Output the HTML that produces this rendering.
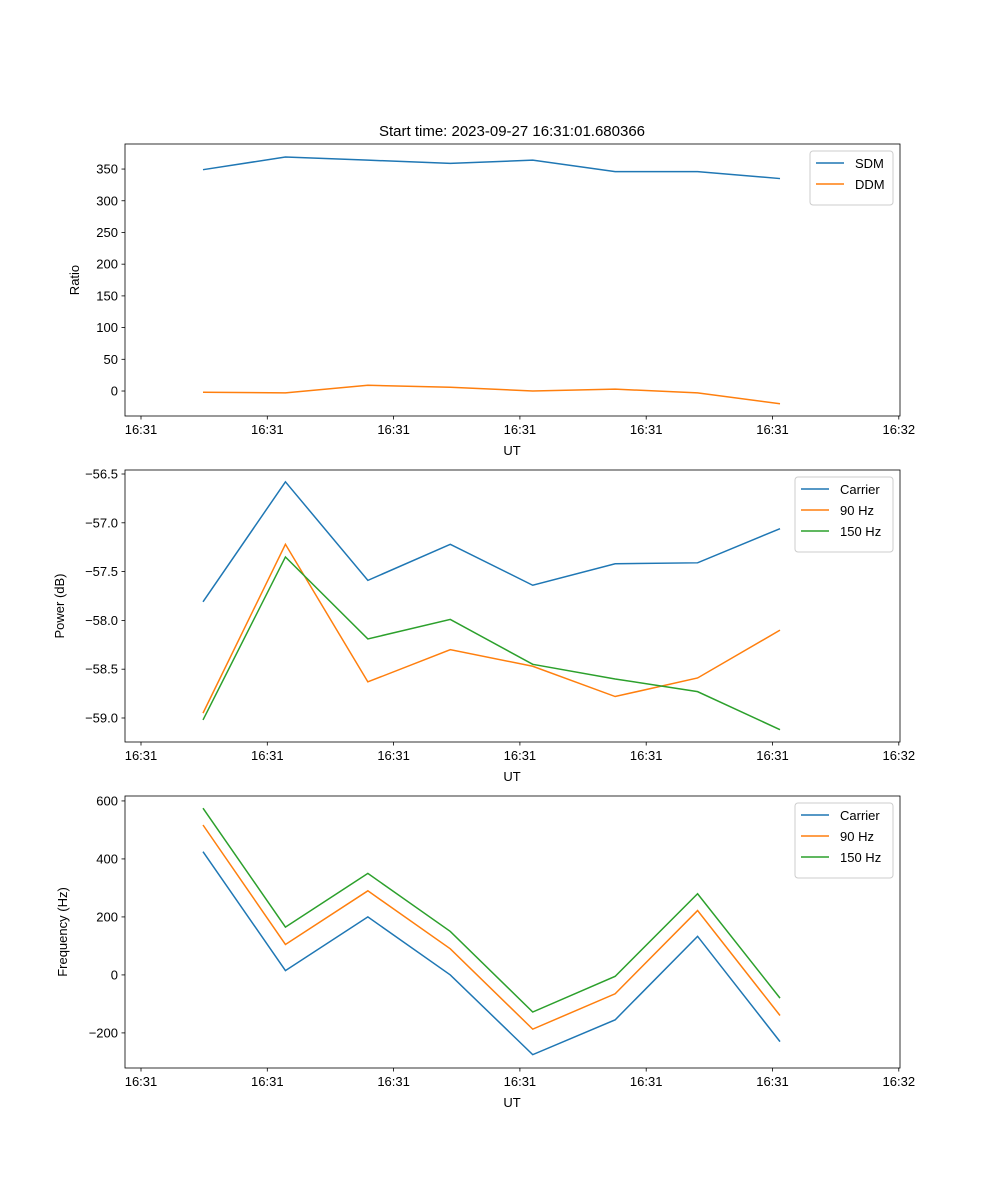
<!DOCTYPE html>
<html><head><meta charset="utf-8"><style>
body{margin:0;background:#fff}
svg{display:block;font-family:"Liberation Sans","DejaVu Sans",sans-serif}
</style></head><body>
<svg id="fig" width="1000" height="1200">
<text x="512" y="136" font-size="15" text-anchor="middle">Start time: 2023-09-27 16:31:01.680366</text>
</svg>
<script>
const xTickLabels = ["16:31","16:31","16:31","16:31","16:31","16:31","16:32"];
const ratioTicks = [0,50,100,150,200,250,300,350];
const sdm = [349,369,364,359,364,346,346,335];
const ddm = [-2,-3,9,6,0,3,-3,-20];
const powerTicks = [-56.5,-57.0,-57.5,-58.0,-58.5,-59.0];
const powCarrier = [-57.81,-56.58,-57.59,-57.22,-57.64,-57.42,-57.41,-57.06];
const pow90 = [-58.95,-57.22,-58.63,-58.30,-58.47,-58.78,-58.59,-58.10];
const pow150 = [-59.02,-57.35,-58.19,-57.99,-58.45,-58.60,-58.73,-59.12];
const freqTicks = [600,400,200,0,-200];
const freqCarrier = [425,15,200,0,-275,-155,133,-230];
const freq90 = [517,105,290,90,-187,-65,222,-140];
const freq150 = [575,165,350,150,-128,-5,280,-80];

const NS="http://www.w3.org/2000/svg";
const svg=document.getElementById('fig');
function mk(tag,attrs,parent){const e=document.createElementNS(NS,tag);for(const k in attrs)e.setAttribute(k,attrs[k]);(parent||svg).appendChild(e);return e;}
const C=['#1f77b4','#ff7f0e','#2ca02c'];
const L=125,R=900;
function xPos(i){return 203+i*82.43;}
function panel(pi,top,ymax,ymin,ticks,fmt,ylabel,ylabelX,series,names,legW){
  const bot=top+272;
  const g=mk('g',{});
  
  
  const y=v=>top+(ymax-v)/(ymax-ymin)*(bot-top);
  series.forEach((s,si)=>{
    const p=mk('polyline',{points:s.map((v,i)=>xPos(i)+','+y(v)).join(' '),fill:'none',stroke:C[si],'stroke-width':1.5},g);
    
    
  });
  const fr=mk('rect',{x:L,y:top,width:R-L,height:bot-top,fill:'none',stroke:'#000','stroke-width':0.8},g);
  
  
  xTickLabels.forEach((t,i)=>{
    const x=141+i*126.3;
    mk('line',{x1:x,x2:x,y1:bot,y2:bot+3.5,stroke:'#000','stroke-width':0.8},g);
    const tx=mk('text',{x:x,y:bot+18,'font-size':13,'text-anchor':'middle'},g);tx.textContent=t;
    
    
  });
  const xl=mk('text',{x:512,y:bot+39,'font-size':13,'text-anchor':'middle'},g);xl.textContent='UT';
  
  
  ticks.forEach(t=>{
    const yy=y(t);
    mk('line',{x1:L-3.5,x2:L,y1:yy,y2:yy,stroke:'#000','stroke-width':0.8},g);
    const tx=mk('text',{x:L-7,y:yy+4.5,'font-size':13,'text-anchor':'end'},g);tx.textContent=fmt(t);
    
    
  });
  const yc=(top+bot)/2;
  const yl=mk('text',{x:ylabelX,y:yc,'font-size':13,'text-anchor':'middle',transform:`rotate(-90 ${ylabelX} ${yc})`},g);yl.textContent=ylabel;
  
  
  const lx=R-7-legW, ly=top+7, lh=12+names.length*21;
  const lg=mk('g',{},g);
  
  
  mk('rect',{x:lx,y:ly,width:legW,height:lh,rx:3,fill:'#fff','fill-opacity':0.8,stroke:'#ccc'},lg);
  names.forEach((n,i)=>{
    const yy=ly+12+i*21;
    mk('line',{x1:lx+6,x2:lx+34,y1:yy,y2:yy,stroke:C[i],'stroke-width':1.5},lg);
    const tx=mk('text',{x:lx+45,y:yy+5,'font-size':13},lg);tx.textContent=n;
    
    
  });
}
panel(1,144,389.5,-39.4,ratioTicks,v=>v<0?'−'+(-v):String(v),'Ratio',79,[sdm,ddm],['SDM','DDM'],83);
panel(2,470,-56.459,-59.246,powerTicks,v=>'−'+(-v).toFixed(1),'Power (dB)',64,[powCarrier,pow90,pow150],['Carrier','90 Hz','150 Hz'],98);
panel(3,796,617,-321,freqTicks,v=>v<0?'−'+(-v):String(v),'Frequency (Hz)',67,[freqCarrier,freq90,freq150],['Carrier','90 Hz','150 Hz'],98);
</script>
</body></html>
